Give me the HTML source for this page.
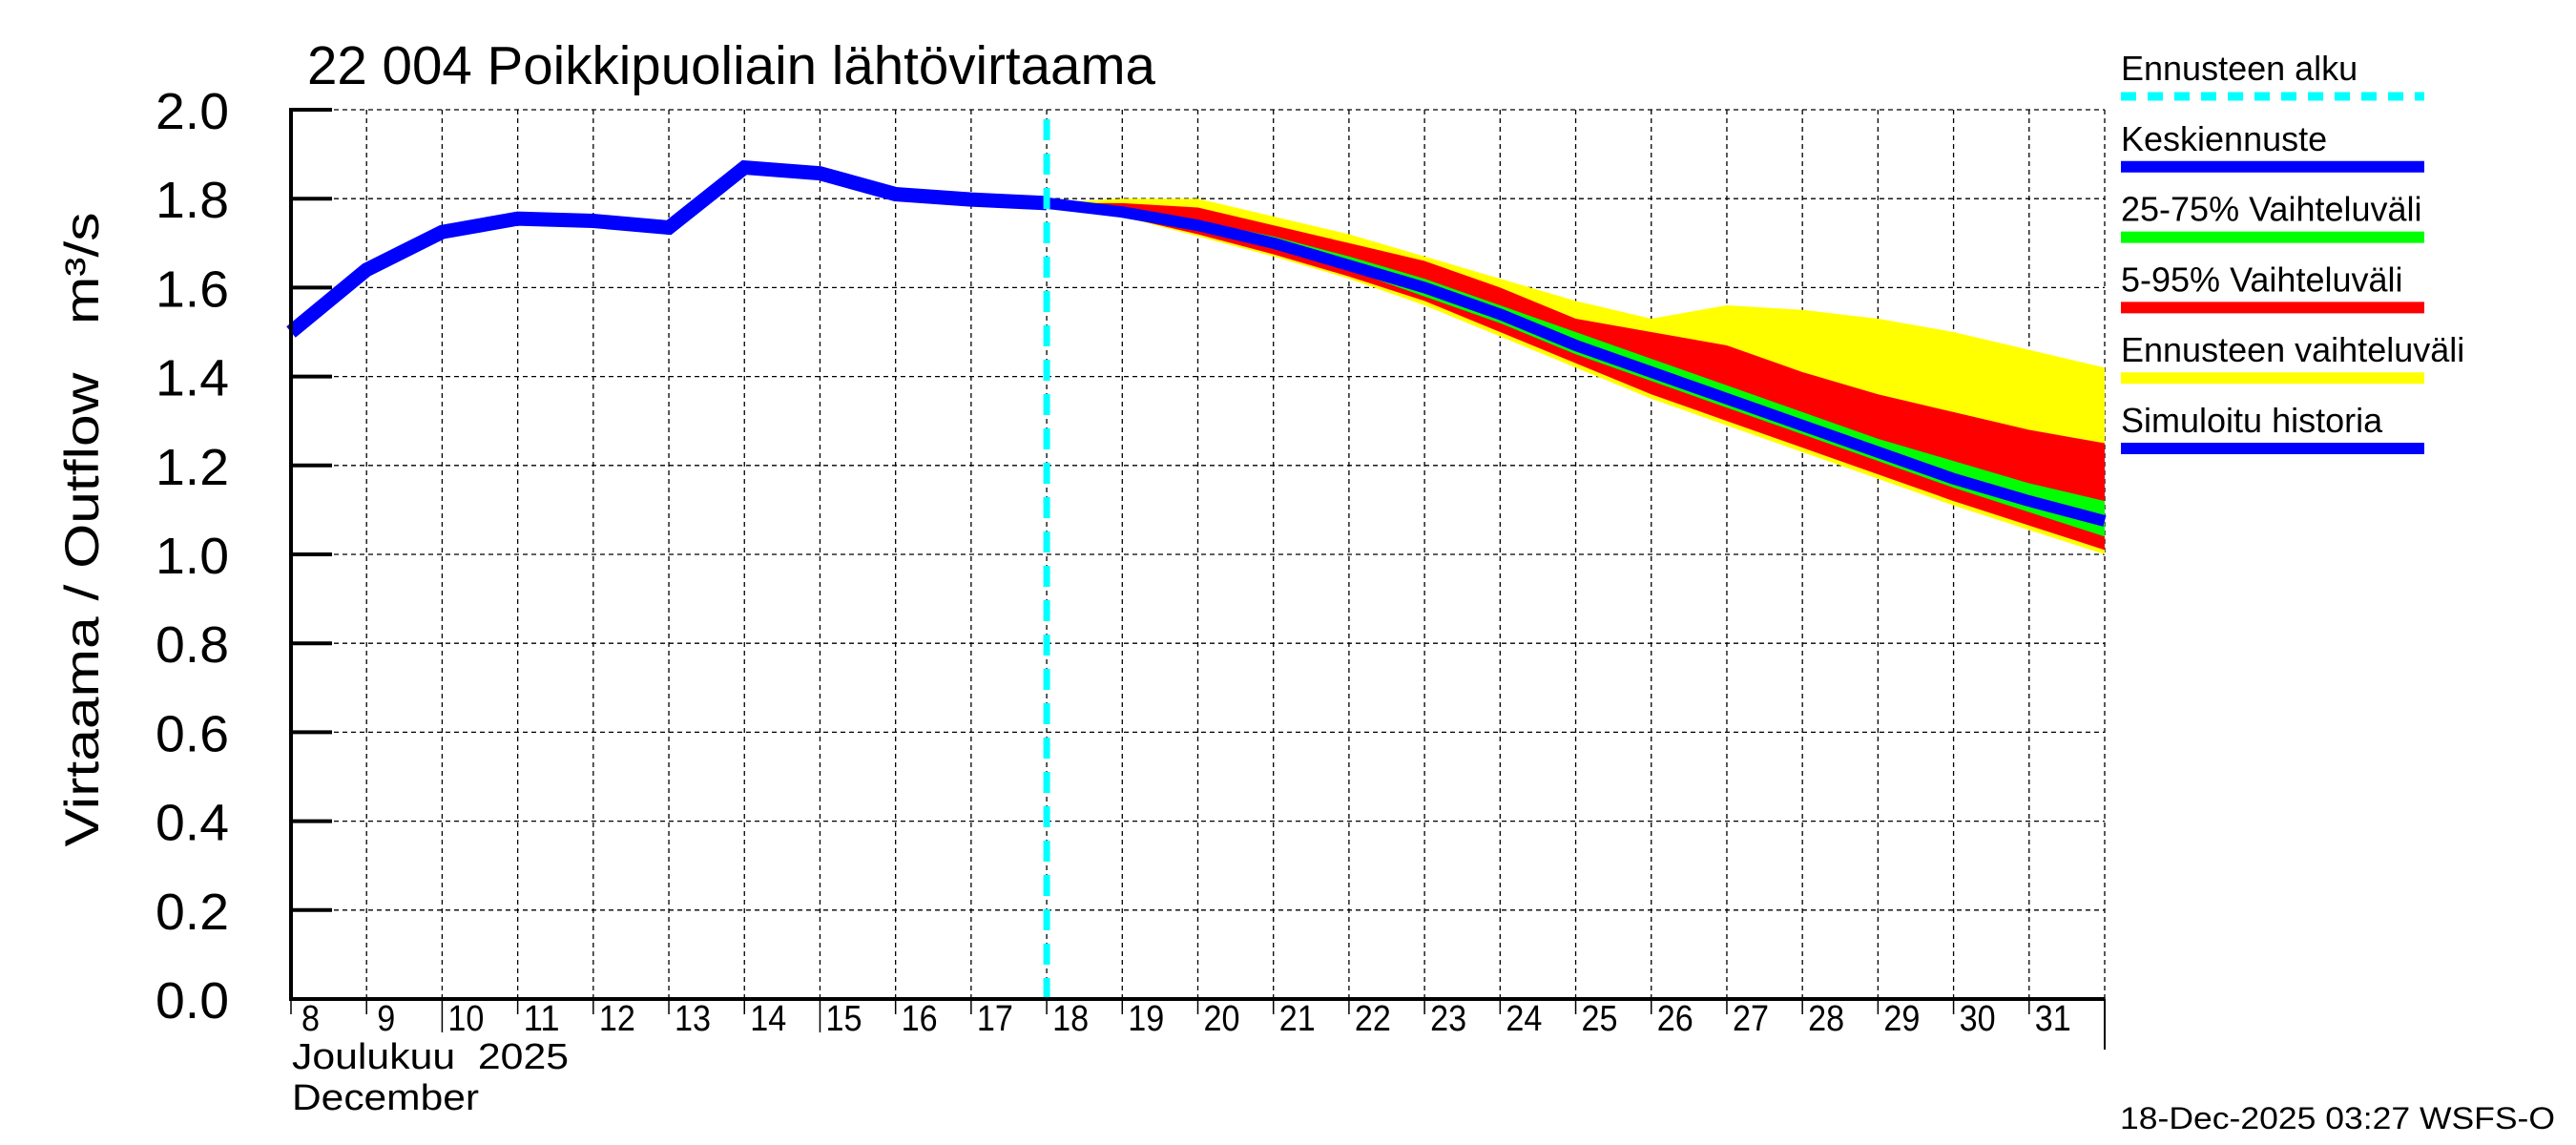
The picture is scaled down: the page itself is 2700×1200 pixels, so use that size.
<!DOCTYPE html>
<html><head><meta charset="utf-8"><style>html,body{margin:0;padding:0;background:#fff}svg{display:block}text{font-family:"Liberation Sans",sans-serif}</style></head>
<body>
<svg id="chart" width="2700" height="1200" viewBox="0 0 2700 1200" xmlns="http://www.w3.org/2000/svg">
<rect x="0" y="0" width="2700" height="1200" fill="#fff"/>
<g id="grid"></g>
<g id="bands"></g>
<g id="lines"></g>
<g id="axes"></g>
<text x="322" y="88" font-size="57" textLength="889" lengthAdjust="spacingAndGlyphs">22 004 Poikkipuoliain lähtövirtaama</text>
<text transform="translate(103,555) rotate(-90)" text-anchor="middle" font-size="50" textLength="665" lengthAdjust="spacingAndGlyphs">Virtaama / Outflow &#160;&#160;m³/s</text>
<text x="306" y="1120" font-size="38" textLength="290" lengthAdjust="spacingAndGlyphs">Joulukuu &#160;2025</text>
<text x="306" y="1163" font-size="38" textLength="196" lengthAdjust="spacingAndGlyphs">December</text>
<text x="2222" y="1183" font-size="32" textLength="456" lengthAdjust="spacingAndGlyphs">18-Dec-2025 03:27 WSFS-O</text>
<g id="legend"></g>
</svg>
<script>
const histDays=[8,9,10,11,12,13,14,15,16,17,18];
const histValues=[1.50,1.64,1.725,1.755,1.75,1.735,1.87,1.857,1.81,1.798,1.79];
const fcDays=[18,19,20,21,22,23,24,25,26,27,28,29,30,31,32];
const median=[1.79,1.77,1.74,1.70,1.65,1.60,1.54,1.47,1.41,1.35,1.29,1.23,1.17,1.12,1.075];
const p25=[1.79,1.765,1.73,1.69,1.64,1.58,1.52,1.45,1.39,1.33,1.27,1.21,1.15,1.095,1.04];
const p75=[1.79,1.775,1.75,1.715,1.67,1.62,1.56,1.50,1.44,1.38,1.32,1.26,1.21,1.16,1.12];
const p5=[1.79,1.76,1.72,1.675,1.625,1.57,1.50,1.43,1.36,1.30,1.24,1.18,1.12,1.065,1.01];
const p95=[1.79,1.79,1.78,1.74,1.70,1.66,1.60,1.53,1.50,1.47,1.41,1.36,1.32,1.28,1.25];
const ensMin=[1.79,1.76,1.715,1.67,1.62,1.56,1.49,1.42,1.35,1.29,1.23,1.17,1.11,1.055,1.00];
const ensMax=[1.79,1.80,1.80,1.76,1.72,1.67,1.62,1.57,1.53,1.56,1.55,1.53,1.50,1.46,1.42];
const yTicks=[0,0.2,0.4,0.6,0.8,1.0,1.2,1.4,1.6,1.8,2.0];
const dayLabels=[8,9,10,11,12,13,14,15,16,17,18,19,20,21,22,23,24,25,26,27,28,29,30,31];
const forecastStart=18;
const legendLabels=["Ennusteen alku","Keskiennuste","25-75% Vaihteluväli","5-95% Vaihteluväli","Ennusteen vaihteluväli","Simuloitu historia"];

const NS="http://www.w3.org/2000/svg";
const L=305,R=2206,T=115,B=1047,D0=8,D1=32;
const xs=d=>L+(d-D0)*(R-L)/(D1-D0);
const ys=v=>B-v*(B-T)/2.0;
function mk(tag,parent,attrs){const e=document.createElementNS(NS,tag);for(const k in attrs)e.setAttribute(k,attrs[k]);document.getElementById(parent).appendChild(e);return e;}

yTicks.forEach(v=>{
  const g=mk('line','grid',{x1:L,x2:R,y1:ys(v),y2:ys(v),stroke:'#000','stroke-width':1.3,'stroke-dasharray':'5 4'});
  
  
  const t=mk('line','axes',{x1:L,x2:L+43,y1:ys(v),y2:ys(v),stroke:'#000','stroke-width':4});
  
  
  const tx=mk('text','axes',{x:240,y:ys(v)+20,'text-anchor':'end','font-size':54,textLength:77,lengthAdjust:'spacingAndGlyphs'});
  tx.textContent=v.toFixed(1);
  
  
});
for(let d=D0+1;d<=D1;d++){
  const g=mk('line','grid',{x1:xs(d),x2:xs(d),y1:T,y2:B,stroke:'#000','stroke-width':1.3,'stroke-dasharray':'5 4'});
  
  
}
dayLabels.forEach(d=>{
  const long=(d===10||d===15);
  const tk=mk('line','axes',{x1:xs(d),x2:xs(d),y1:B,y2:B+(long?35:16),stroke:'#000','stroke-width':1.5});
  
  
  const tx=mk('text','axes',{x:xs(d)+(d<10?11:6),y:1080,'font-size':38,textLength:(d<10?19:38),lengthAdjust:'spacingAndGlyphs'});
  tx.textContent=String(d);
  
  
});
function band(lo,hi,color,name){
  let p=fcDays.map((d,i)=>xs(d)+','+ys(hi[i])).join(' ');
  p+=' '+fcDays.slice().reverse().map((d,i)=>xs(d)+','+ys(lo[lo.length-1-i])).join(' ');
  const e=mk('polygon','bands',{points:p,fill:color});
  
  
}
band(ensMin,ensMax,'#ffff00','ensemble-range-band');
band(p5,p95,'#ff0000','band-5-95');
band(p25,p75,'#00ff00','band-25-75');
const ml=mk('polyline','lines',{points:fcDays.map((d,i)=>xs(d)+','+ys(median[i])).join(' '),fill:'none',stroke:'#0000ff','stroke-width':12,'stroke-linejoin':'round'});


const hl=mk('polyline','lines',{points:histDays.map((d,i)=>xs(d)+','+ys(histValues[i])).join(' '),fill:'none',stroke:'#0000ff','stroke-width':15,'stroke-linejoin':'miter'});


const cy=mk('line','lines',{x1:xs(forecastStart),x2:xs(forecastStart),y1:T+10,y2:B,stroke:'#00ffff','stroke-width':7,'stroke-dasharray':'22 14'});


const ax1=mk('line','axes',{x1:L,x2:L,y1:T-2,y2:B+2,stroke:'#000','stroke-width':4});


const ax2=mk('line','axes',{x1:L-2,x2:R,y1:B,y2:B,stroke:'#000','stroke-width':4});


const ax3=mk('line','axes',{x1:R,x2:R,y1:B,y2:1100,stroke:'#000','stroke-width':2});


const legColors=['#00ffff','#0000ff','#00ff00','#ff0000','#ffff00','#0000ff'];
legendLabels.forEach((lab,i)=>{
  const yl=101+i*73.8;
  const ln=mk('line','legend',{x1:2223,x2:2541,y1:yl,y2:yl,stroke:legColors[i],'stroke-width':i===0?9:12,'stroke-dasharray':i===0?'16 12':'none'});
  
  
  const tx=mk('text','legend',{x:2223,y:yl-17,'font-size':36});
  tx.textContent=lab;
  
  
});
</script>
</body></html>
